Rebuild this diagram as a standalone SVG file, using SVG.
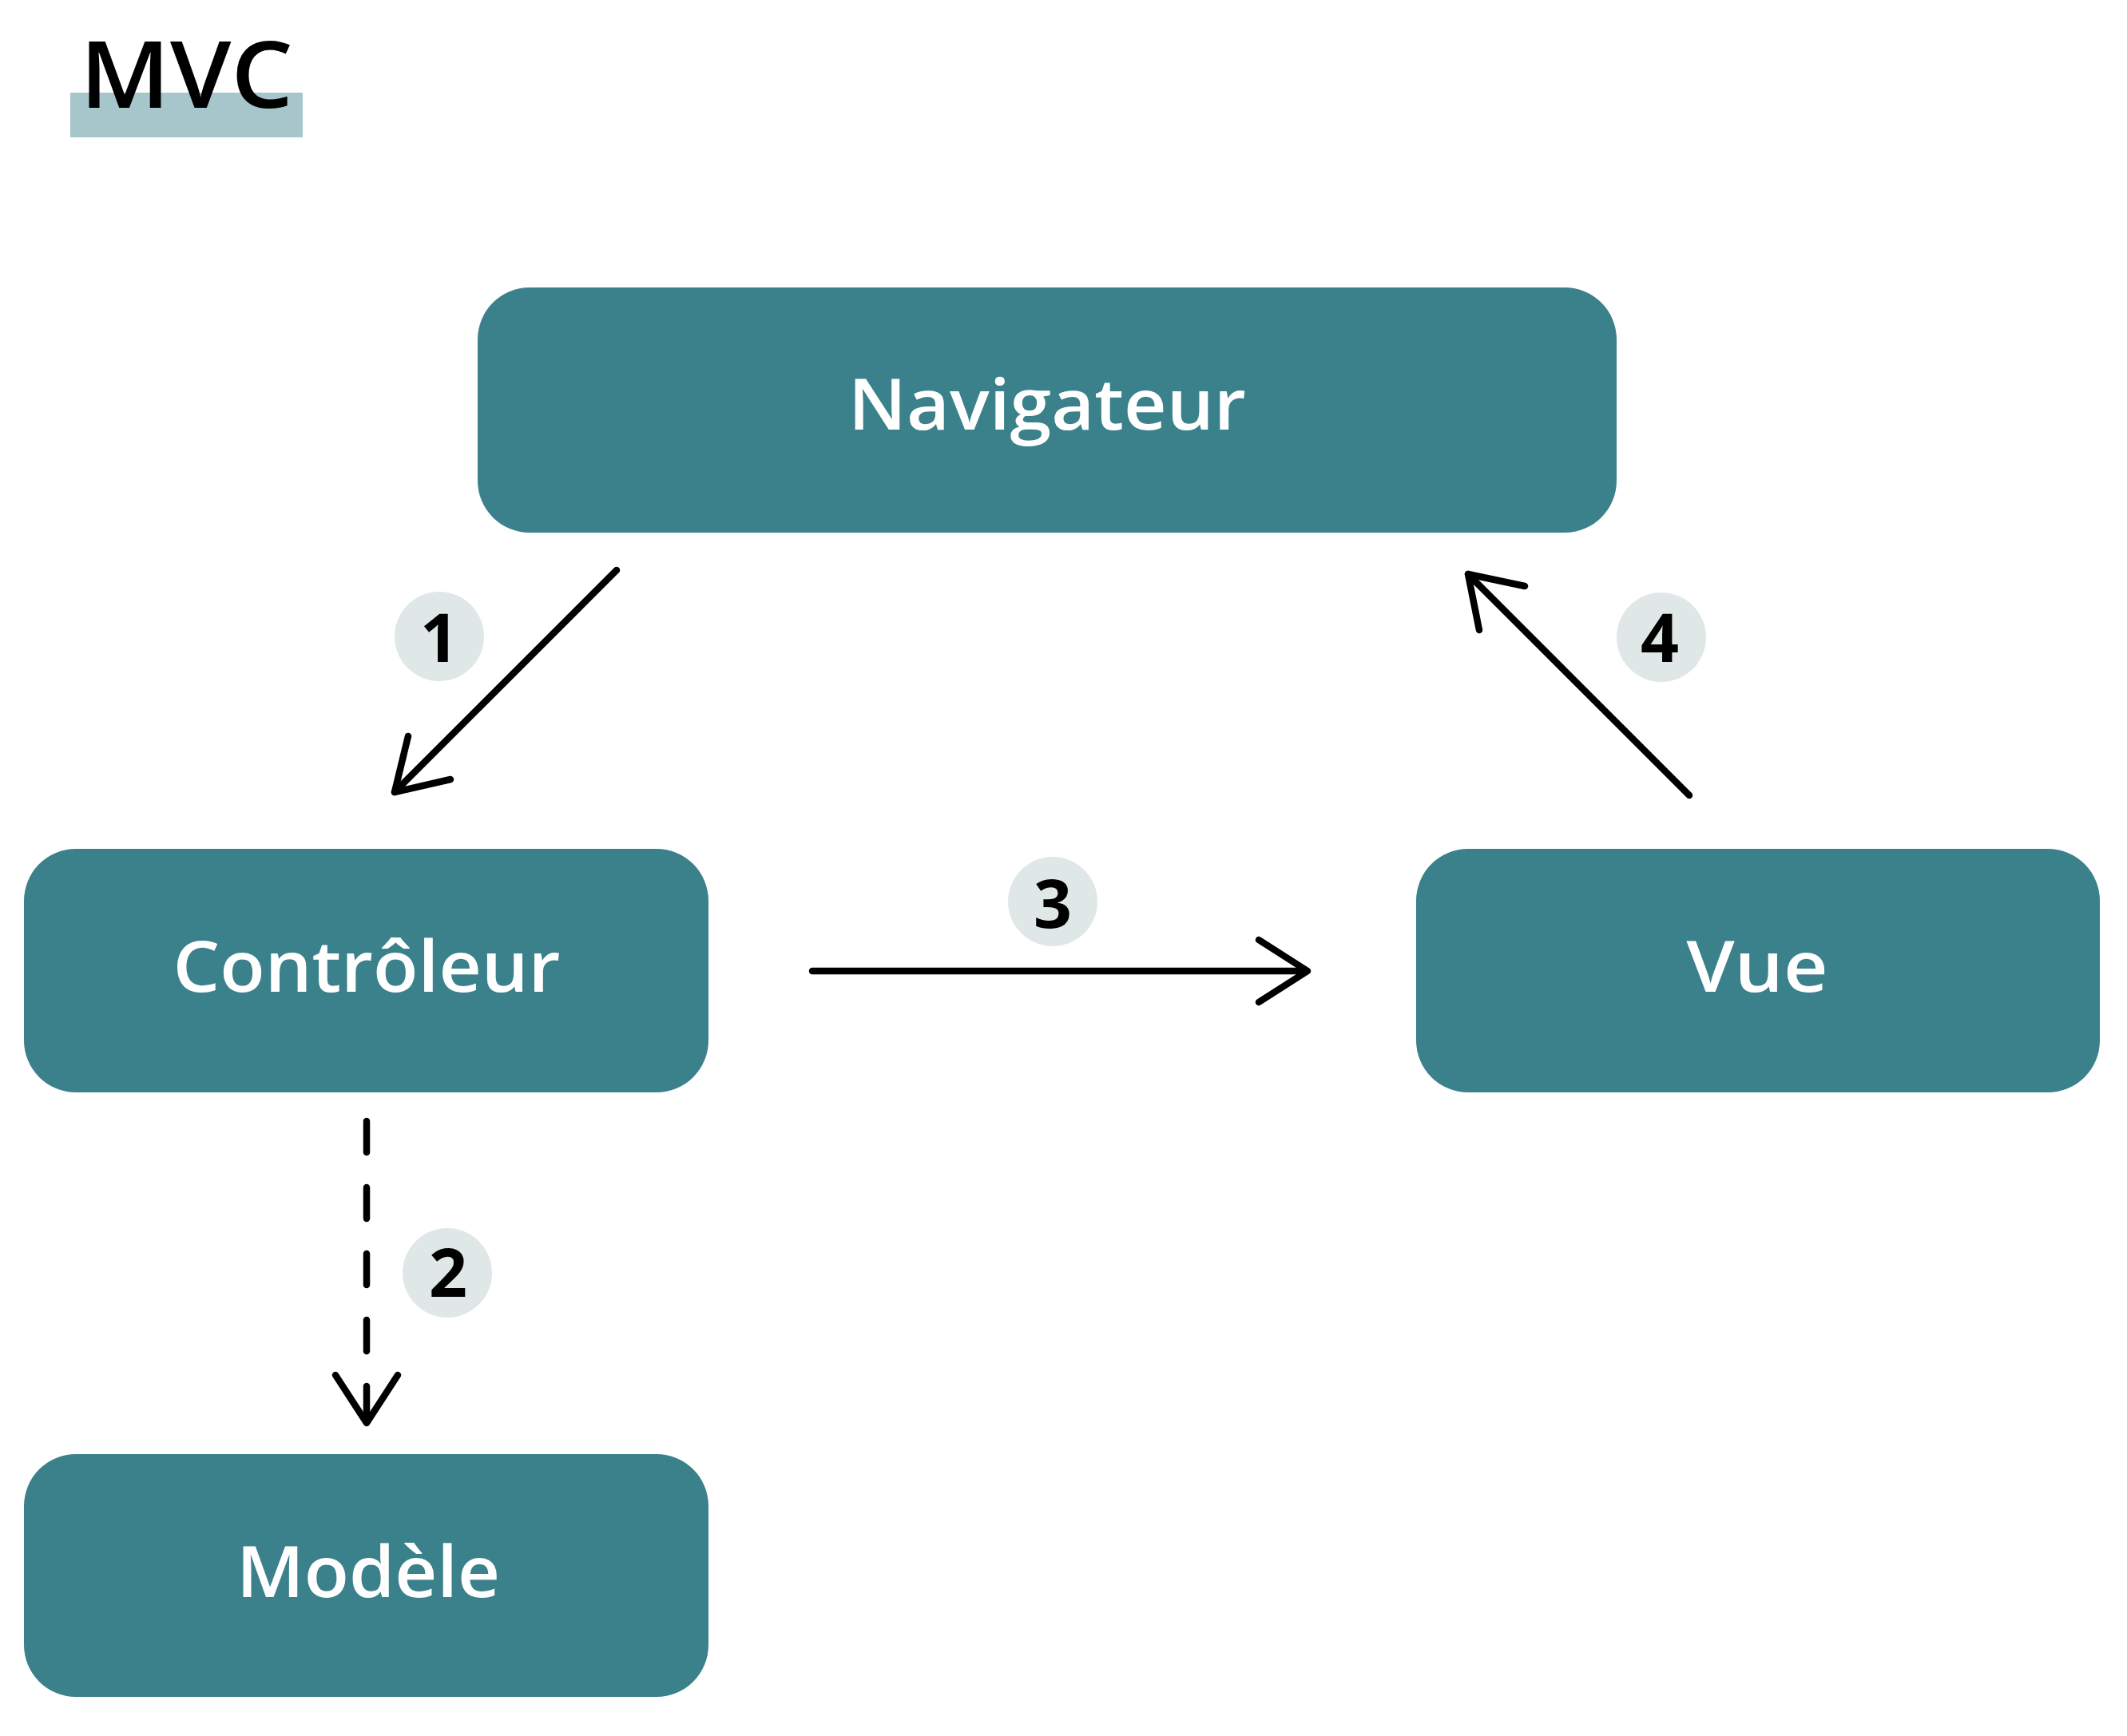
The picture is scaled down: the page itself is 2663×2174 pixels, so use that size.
<svg xmlns="http://www.w3.org/2000/svg" width="2663" height="2174" viewBox="0 0 2663 2174">
<style>
.box{fill:#3b818c}
.lbl{font-family:"Open Sans","Liberation Sans",sans-serif;font-weight:600;font-size:88px;fill:#ffffff;text-anchor:middle}
.num{font-family:"Open Sans","Liberation Sans",sans-serif;font-weight:700;font-size:84px;fill:#000000;text-anchor:middle}
.badge{fill:#e0e8e7}
.ln{fill:none;stroke:#000000;stroke-width:8.5;stroke-linecap:round;stroke-linejoin:round}
</style>
<rect width="2663" height="2174" fill="#ffffff"/>
<g id="title">
<rect x="88" y="116" width="291" height="56" fill="#a6c6cc"/>
<text x="100" y="135" font-family="'Open Sans','Liberation Sans',sans-serif" font-weight="600" font-size="116" fill="#000000" textLength="267" lengthAdjust="spacingAndGlyphs">MVC</text>
</g>
<g id="navigateur">
<rect class="box" x="598" y="360" width="1426" height="307" rx="65" ry="65"/>
<text class="lbl" x="1311" y="538" textLength="498" lengthAdjust="spacingAndGlyphs">Navigateur</text>
</g>
<g id="controleur">
<rect class="box" x="30" y="1063" width="857" height="305" rx="65" ry="65"/>
<text class="lbl" x="459" y="1242" textLength="485" lengthAdjust="spacingAndGlyphs">Contrôleur</text>
</g>
<g id="vue">
<rect class="box" x="1773" y="1063" width="856" height="305" rx="65" ry="65"/>
<text class="lbl" x="2200" y="1242" textLength="177" lengthAdjust="spacingAndGlyphs">Vue</text>
</g>
<g id="modele">
<rect class="box" x="30" y="1821" width="857" height="304" rx="65" ry="65"/>
<text class="lbl" x="461" y="2000" textLength="330" lengthAdjust="spacingAndGlyphs">Modèle</text>
</g>
<g id="connectors">
<line class="ln" x1="772" y1="714" x2="494" y2="992"/>
<polyline class="ln" points="511,922 494,992 564,976"/>
<line class="ln" x1="459" y1="1404" x2="459" y2="1780" stroke-dasharray="39 44"/>
<polyline class="ln" points="420,1722 459,1782 498,1722"/>
<line class="ln" x1="1017" y1="1216" x2="1635" y2="1216"/>
<polyline class="ln" points="1576,1177 1637,1216 1576,1255"/>
<line class="ln" x1="2115" y1="996" x2="1838" y2="719"/>
<polyline class="ln" points="1852,789 1838,719 1909,734"/>
</g>
<g id="badge1">
<circle class="badge" cx="550" cy="797" r="56"/>
<text class="num" x="550" y="829">1</text>
</g>
<g id="badge2">
<circle class="badge" cx="560" cy="1594" r="56"/>
<text class="num" x="561" y="1624">2</text>
</g>
<g id="badge3">
<circle class="badge" cx="1318" cy="1129" r="56"/>
<text class="num" x="1318" y="1162">3</text>
</g>
<g id="badge4">
<circle class="badge" cx="2080" cy="798" r="56"/>
<text class="num" x="2078" y="829">4</text>
</g>
</svg>
